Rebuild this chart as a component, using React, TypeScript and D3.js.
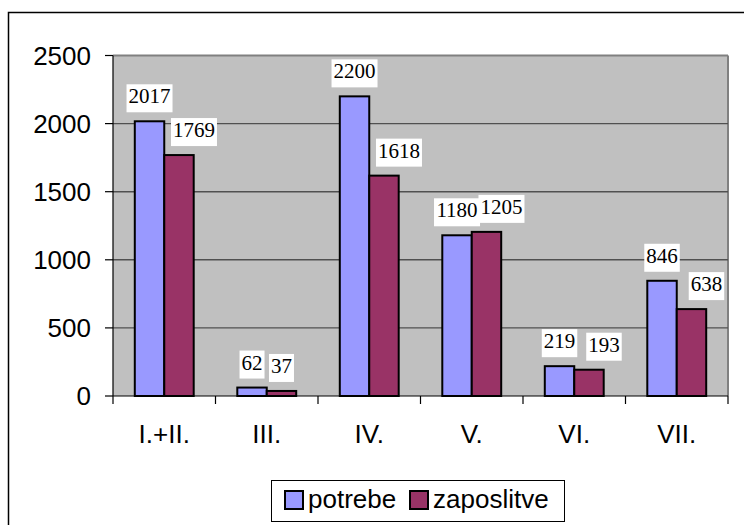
import * as d3 from 'd3';

// chart values
const categories = ['I.+II.', 'III.', 'IV.', 'V.', 'VI.', 'VII.'];
const potrebe = [2017, 62, 2200, 1180, 219, 846];
const zaposlitve = [1769, 37, 1618, 1205, 193, 638];
const seriesNames = ['potrebe', 'zaposlitve'];
const yTicks = [0, 500, 1000, 1500, 2000, 2500];

const colors = ['#9999FF', '#993366'];
const sans = '"Liberation Sans", Arial, sans-serif';
const serif = '"Liberation Serif", "Times New Roman", serif';

function App() {
    const W = 744, H = 525;
    const plot = { left: 113, right: 728, top: 55.5, bottom: 396 };

    const x0 = d3.scaleBand<string>()
        .domain(categories)
        .range([plot.left, plot.right]);
    const x1 = d3.scaleBand<string>()
        .domain(seriesNames)
        .range([0, x0.step()])
        .paddingOuter(0.74);
    const y = d3.scaleLinear()
        .domain([0, 2500])
        .range([plot.bottom, plot.top]);

    const series = [potrebe, zaposlitve];

    // excel nudged the wider labels of the second series to the right
    const labelShift = (j: number, v: number) => (j === 1 && String(v).length > 2 ? 15 : 0);

    const boundaries = d3.range(categories.length + 1).map(i => plot.left + i * x0.step());

    return (
        <svg width={W} height={H} style={{ position: 'absolute', left: 0, top: 0 }}>
            <rect x={0} y={0} width={W} height={H} fill="#fff" />
            {/* outer frame, runs off the right/bottom edge */}
            <rect x={8.5} y={12.5} width={W + 10} height={H + 10} fill="none" stroke="#000" strokeWidth={1.5} />

            {/* plot area */}
            <rect x={plot.left} y={plot.top} width={plot.right - plot.left} height={plot.bottom - plot.top} fill="#C0C0C0" />
            <line x1={plot.left} x2={plot.right} y1={plot.top} y2={plot.top} stroke="#808080" strokeWidth={2} />
            <line x1={plot.right} x2={plot.right} y1={plot.top} y2={plot.bottom} stroke="#808080" strokeWidth={2} />

            {/* gridlines + y axis */}
            {yTicks.map(t => (
                <g key={t}>
                    {t > 0 && t < 2500 && (
                        <line x1={plot.left} x2={plot.right} y1={y(t)} y2={y(t)} stroke="#505050" strokeWidth={1.4} />
                    )}
                    <line x1={plot.left - 8} x2={plot.left} y1={y(t)} y2={y(t)} stroke="#000" strokeWidth={1.2} />
                    <text x={91} y={y(t)} dy="0.36em" textAnchor="end" fontFamily={sans} fontSize={26} fill="#000">
                        {t}
                    </text>
                </g>
            ))}
            <line x1={plot.left} x2={plot.left} y1={plot.top} y2={plot.bottom} stroke="#000" strokeWidth={1.2} />

            {/* bars */}
            {categories.map((c, i) => (
                <g key={c} transform={`translate(${x0(c)},0)`}>
                    {series.map((s, j) => (
                        <rect key={j}
                            x={x1(seriesNames[j])}
                            y={y(s[i])}
                            width={x1.bandwidth()}
                            height={y(0) - y(s[i])}
                            fill={colors[j]}
                            stroke="#000"
                            strokeWidth={2} />
                    ))}
                </g>
            ))}

            {/* x axis */}
            <line x1={plot.left} x2={plot.right} y1={plot.bottom} y2={plot.bottom} stroke="#000" strokeWidth={1.2} />
            {boundaries.map((bx, i) => (
                <line key={i} x1={bx} x2={bx} y1={plot.bottom} y2={plot.bottom + 8} stroke="#000" strokeWidth={1.2} />
            ))}
            {categories.map(c => (
                <text key={c} x={x0(c)! + x0.step() / 2} y={443} textAnchor="middle" fontFamily={sans} fontSize={26} fill="#000">
                    {c}
                </text>
            ))}

            {/* value labels */}
            {categories.map((c, i) => series.map((s, j) => {
                const v = s[i];
                const cx = x0(c)! + x1(seriesNames[j])! + x1.bandwidth() / 2 + labelShift(j, v);
                const base = y(v) - 18;
                const w = String(v).length * 10.5 + 4;
                return (
                    <g key={c + j}>
                        <rect x={cx - w / 2} y={base - 19} width={w} height={28} fill="#fff" />
                        <text x={cx} y={base} textAnchor="middle" fontFamily={serif} fontSize={21} fill="#000">{v}</text>
                    </g>
                );
            }))}

            {/* legend */}
            <rect x={271.5} y={480.5} width={293} height={41} fill="#fff" stroke="#000" strokeWidth={1} />
            {seriesNames.map((n, j) => {
                const sx = j === 0 ? 285 : 410;
                return (
                    <g key={n}>
                        <rect x={sx} y={491} width={18} height={18} fill={colors[j]} stroke="#000" strokeWidth={2} />
                        <text x={sx + 23} y={508} fontFamily={sans} fontSize={26} fill="#000">{n}</text>
                    </g>
                );
            })}
        </svg>
    );
}

export default App;
